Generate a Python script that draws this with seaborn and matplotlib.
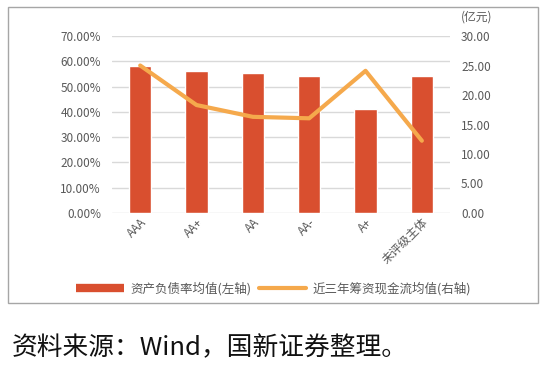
import pandas as pd
import matplotlib.pyplot as plt
import seaborn as sns
from matplotlib.patches import Rectangle
from matplotlib.lines import Line2D

categories = ["AAA", "AA+", "AA", "AA-", "A+", "未评级主体"]
debt_ratio = [58.3, 56.2, 55.5, 54.2, 41.1, 54.1]          # 资产负债率均值 (%)
financing_cash = [25.0, 18.3, 16.3, 16.05, 24.1, 12.25]    # 近三年筹资现金流均值 (亿元)

df = pd.DataFrame({"cat": categories, "ratio": debt_ratio, "cash": financing_cash})

sns.set_style("white")
plt.rcParams['font.family'] = ['Noto Sans CJK SC', 'DejaVu Sans']

bar_color = "#d94f2f"
line_color = "#f5a94c"
tick_color = "#595959"

fig = plt.figure(figsize=(5.47, 3.69), dpi=100)
ax = fig.add_axes([0.2048, 0.4228, 0.6179, 0.4796])

sns.barplot(data=df, x="cat", y="ratio", color=bar_color, width=0.4,
            saturation=1, ax=ax, zorder=3)
ax.set_ylim(0, 70)
ax.set_yticks(range(0, 71, 10))
ax.set_yticklabels([f"{v:.2f}%" for v in range(0, 71, 10)])
ax.grid(axis='y', color="#d9d9d9", linewidth=1, zorder=0)
ax.set_axisbelow(True)
ax.set_xlabel("")
ax.set_ylabel("")
ax.set_xlim(-0.5, 5.5)
ax.tick_params(axis='y', colors=tick_color, labelsize=8.5, length=0, pad=8)
ax.tick_params(axis='x', colors=tick_color, labelsize=8.5, length=0, pad=2)
for lab in ax.get_xticklabels():
    lab.set_rotation(45)
    lab.set_ha("right")
    lab.set_rotation_mode("anchor")

ax2 = ax.twinx()
sns.lineplot(x=list(range(len(categories))), y=financing_cash, color=line_color,
             linewidth=3, ax=ax2, zorder=4)
ax2.set_ylim(0, 30)
ax2.set_yticks(range(0, 31, 5))
ax2.set_yticklabels([f"{v:.2f}" for v in range(0, 31, 5)])
ax2.tick_params(axis='y', colors=tick_color, labelsize=8.5, length=0, pad=8)
ax2.set_xlim(-0.5, 5.5)

for a in (ax, ax2):
    for s in a.spines.values():
        s.set_visible(False)

fig.text(0.842, 0.955, "(亿元)", color=tick_color, fontsize=8.5, va="center", ha="left")

# outer frame
fig.patches.append(Rectangle((8 / 547, 1 - 303 / 369), 530 / 547, 296 / 369,
                             transform=fig.transFigure, fill=False,
                             edgecolor="#a6a6a6", linewidth=1))

handles = [Line2D([0], [0], color=bar_color, linewidth=6, solid_capstyle="butt"),
           Line2D([0], [0], color=line_color, linewidth=3, solid_capstyle="round")]
fig.legend(handles, ["资产负债率均值(左轴)", "近三年筹资现金流均值(右轴)"],
           loc="center", bbox_to_anchor=(0.5, 1 - 289 / 369), ncol=2, frameon=False,
           fontsize=9, labelcolor=tick_color, handlelength=3.8, columnspacing=0.6,
           handletextpad=0.5)

fig.text(0.022, 1 - 348 / 369, "资料来源：Wind，国新证券整理。", fontsize=18.5,
         color="#111111", va="center", ha="left")

fig.savefig("out.png", dpi=100)
